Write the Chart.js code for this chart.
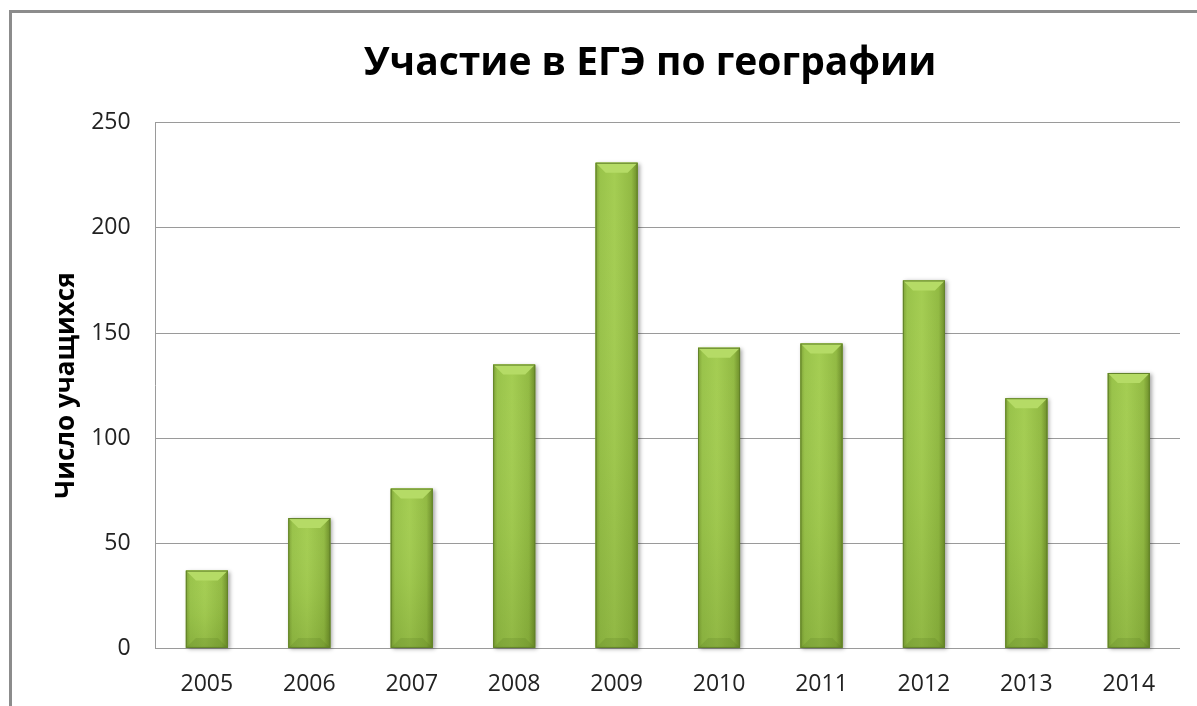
<!DOCTYPE html>
<html>
<head>
<meta charset="utf-8">
<script src="https://cdn.jsdelivr.net/npm/chart.js@4/dist/chart.umd.min.js"></script>
<style>
  body { margin: 0; background: #fff; overflow: hidden; }
  #wrap { position: relative; width: 1197px; height: 706px; overflow: hidden; }
  #frame { position: absolute; left: 9px; top: 10px; width: 1300px; height: 800px;
           border-top: 3px solid #8c8c8c; border-left: 3px solid #8c8c8c; }
  canvas { position: absolute; left: 0; top: 0; }
</style>
</head>
<body>
<div id="wrap">
  <div id="frame"></div>
  <canvas id="chart" width="1197" height="712"></canvas>
</div>
<script>
// данные диаграммы
const years = ['2005', '2006', '2007', '2008', '2009', '2010', '2011', '2012', '2013', '2014'];
const students = [37, 62, 76, 135, 231, 143, 145, 175, 119, 131];
const yMin = 0;
const yMax = 250;
const yStep = 50;
const chartTitle = 'Участие в ЕГЭ по географии';
const yTitle = 'Число учащихся';

const font = "'Open Sans', 'Noto Sans', sans-serif";

// заголовок центрируется по всей рамке (рамка шире окна)
const shiftTitle = {
    id: 'shiftTitle',
    afterLayout(chart) {
        const t = chart.titleBlock;
        if (!t) return;
        t.left = 10;
        t.right = 1290;
        t.width = 1280;
    }
};

// объёмные столбики: градиент, фаска сверху, тень
const bevelBars = {
    id: 'bevelBars',
    afterDatasetsDraw(chart) {
        const c = chart.ctx;
        chart.getDatasetMeta(0).data.forEach(bar => {
            const p = bar.getProps(['x', 'y', 'base', 'width'], true);
            const l = p.x - p.width / 2, r = p.x + p.width / 2;
            const top = p.y, bot = p.base, h = bot - top;
            const b = Math.min(10, h / 3);

            c.save();
            c.shadowColor = 'rgba(0,0,0,0.35)';
            c.shadowBlur = 4;
            c.shadowOffsetX = 2;
            c.shadowOffsetY = 1;
            c.fillStyle = '#8db53f';
            c.fillRect(l, top, p.width, h);
            c.restore();

            c.save();
            let g = c.createLinearGradient(l, 0, r, 0);
            g.addColorStop(0, '#7fa337');
            g.addColorStop(0.1, '#99c34a');
            g.addColorStop(0.45, '#a4cd52');
            g.addColorStop(0.85, '#92ba43');
            g.addColorStop(1, '#6d8d2a');
            c.fillStyle = g;
            c.fillRect(l, top, p.width, h);

            let v = c.createLinearGradient(0, top, 0, bot);
            v.addColorStop(0, 'rgba(255,255,255,0)');
            v.addColorStop(0.6, 'rgba(60,90,10,0.05)');
            v.addColorStop(1, 'rgba(60,90,10,0.18)');
            c.fillStyle = v;
            c.fillRect(l, top, p.width, h);

            // фаска сверху
            c.beginPath();
            c.moveTo(l, top);
            c.lineTo(r, top);
            c.lineTo(r - b, top + b);
            c.lineTo(l + b, top + b);
            c.closePath();
            c.fillStyle = '#b5db66';
            c.fill();

            // фаска снизу
            c.beginPath();
            c.moveTo(l, bot);
            c.lineTo(r, bot);
            c.lineTo(r - b, bot - b);
            c.lineTo(l + b, bot - b);
            c.closePath();
            c.fillStyle = 'rgba(70,100,20,0.15)';
            c.fill();

            c.strokeStyle = '#62822a';
            c.lineWidth = 1;
            c.strokeRect(l + 0.5, top + 0.5, p.width - 1, h - 1);
            c.restore();
        });
    }
};

const ctx = document.getElementById('chart');
const chart = new Chart(ctx, {
    type: 'bar',
    data: {
        labels: years,
        datasets: [{
            label: yTitle,
            data: students,
            backgroundColor: '#8db53f',
            borderWidth: 0,
            categoryPercentage: 1,
            barPercentage: 0.41
        }]
    },
    options: {
        responsive: false,
        animation: false,
        layout: { padding: { left: 51, right: 17, top: 6, bottom: 0 } },
        plugins: {
            legend: { display: false },
            tooltip: { enabled: false },
            title: {
                display: true,
                text: chartTitle,
                color: '#000',
                font: { family: font, size: 39, weight: 'bold' },
                padding: { top: 34, bottom: 36 }
            }
        },
        scales: {
            x: {
                grid: { display: false },
                border: { display: false },
                ticks: { color: '#222', font: { family: font, size: 23 }, padding: 14 }
            },
            y: {
                min: yMin,
                max: yMax,
                // отступ подписей учитывается дважды, убираем лишнее
                afterFit(scale) { scale.width -= 25; },
                ticks: { stepSize: yStep, color: '#222', font: { family: font, size: 23 }, padding: 25 },
                grid: { color: '#9a9a9a', drawTicks: false },
                border: { display: true, color: '#9a9a9a' },
                title: {
                    display: true,
                    text: yTitle,
                    color: '#000',
                    font: { family: font, size: 26, weight: 'bold' },
                    padding: { top: 0, bottom: 9 }
                }
            }
        }
    },
    plugins: [shiftTitle, bevelBars]
});
</script>
</body>
</html>
